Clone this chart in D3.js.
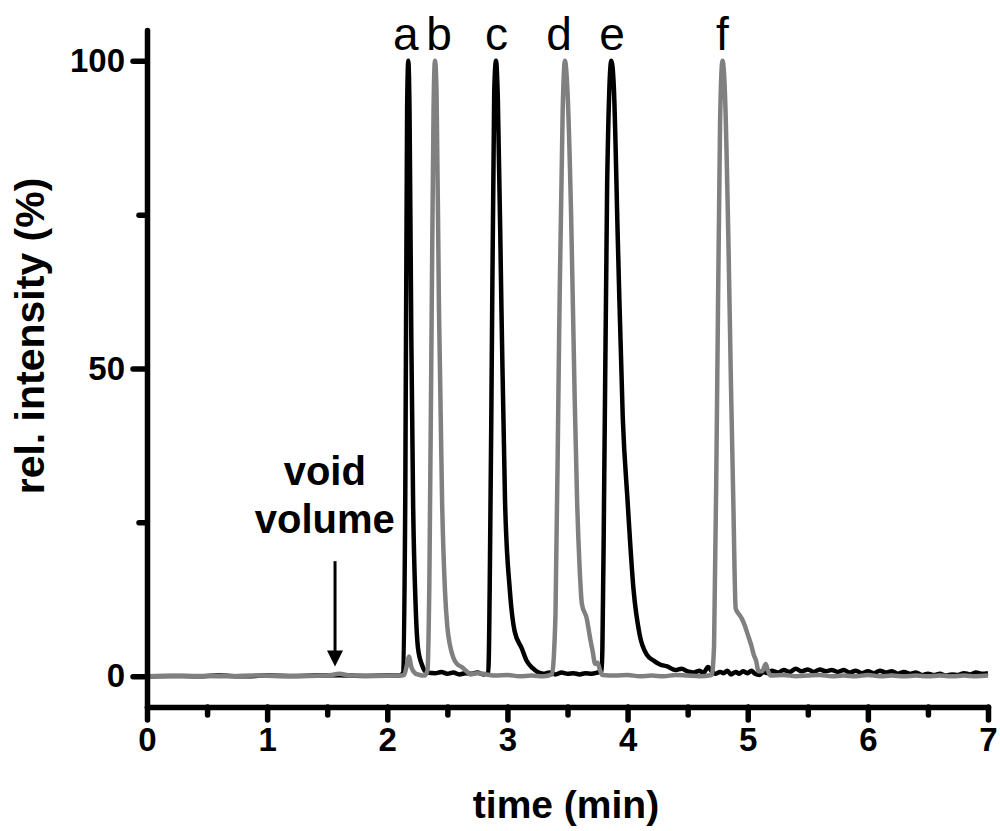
<!DOCTYPE html>
<html lang="en">
  <head>
    <meta charset="UTF-8" />
    <title>chromatogram</title>
    <style>
      body { margin: 0; background: #fff; }
      svg { display: block; font-family: 'Liberation Sans', Arial, sans-serif; }
    </style>
    <script src="https://d3js.org/d3.v7.min.js"></script>
  </head>
  <body>
    <div class="chart"></div>
    <script>
      // trace 1 (black): peaks a, c, e
      const blackTrace = [
        [0.0, 0.0], [0.2, 0.05], [0.4, 0.0], [0.6, 0.1], [0.8, 0.0], [1.0, 0.1], [1.2, 0.05],
        [1.4, 0.1], [1.6, 0.15], [1.8, 0.05], [2.0, 0.1], [2.1, 0.1], [2.13, 0.5],
        [2.15, 30], [2.165, 92], [2.175, 100], [2.185, 92], [2.2, 55], [2.215, 28],
        [2.235, 12], [2.256, 4.5], [2.29, 1.8], [2.33, 0.6], [2.4, 0.5], [2.45, 0.7],
        [2.5, 0.4], [2.55, 0.6], [2.6, 0.3], [2.65, 0.5], [2.7, 0.4], [2.75, 0.6], [2.8, 0.3],
        [2.84, 0.5], [2.865, 40], [2.89, 95], [2.905, 100], [2.92, 94], [2.95, 60],
        [2.98, 28.5], [3.02, 14], [3.06, 7.3], [3.12, 4.5], [3.16, 2.5], [3.21, 1.3],
        [3.3, 0.4], [3.35, 0.6], [3.4, 0.3], [3.45, 0.6], [3.5, 0.4], [3.55, 0.5], [3.6, 0.3],
        [3.65, 0.5], [3.7, 0.4], [3.75, 0.6], [3.785, 0.8], [3.8, 20], [3.83, 80],
        [3.865, 100], [3.885, 96], [3.92, 70], [3.96, 42], [4.0, 28.5], [4.05, 14], [4.1, 6.8],
        [4.16, 3.5], [4.22, 2.5], [4.27, 1.9], [4.33, 1.6], [4.4, 1.0], [4.45, 1.2], [4.5, 0.8],
        [4.55, 0.6], [4.6, 0.9], [4.63, 0.5], [4.67, 1.5], [4.7, 0.8], [4.73, 0.4], [4.77, 0.7],
        [4.8, 0.5], [4.83, 0.9], [4.86, 0.3], [4.9, 0.7], [4.93, 0.4], [4.96, 0.8], [5.0, 0.5],
        [5.03, 0.9], [5.06, 0.4], [5.1, 0.2], [5.13, 0.7], [5.17, 0.5], [5.2, 0.9], [5.25, 0.6],
        [5.3, 1.0], [5.35, 0.7], [5.4, 1.2], [5.45, 0.8], [5.5, 1.1], [5.55, 0.7], [5.6, 1.1],
        [5.65, 0.8], [5.7, 1.0], [5.75, 0.7], [5.8, 1.0], [5.85, 0.6], [5.9, 0.9], [5.95, 0.5],
        [6.0, 0.8], [6.05, 0.5], [6.1, 0.9], [6.15, 0.6], [6.2, 0.8], [6.25, 0.4], [6.3, 0.7],
        [6.35, 0.4], [6.4, 0.6], [6.45, 0.2], [6.5, 0.4], [6.55, 0.2], [6.6, 0.4], [6.65, 0.1],
        [6.7, 0.3], [6.75, 0.2], [6.8, 0.5], [6.85, 0.3], [6.9, 0.6], [6.95, 0.4], [7.0, 0.5]
      ]

      // trace 2 (grey): peaks b, d, f
      const grayTrace = [
        [0.0, 0.0], [0.3, 0.05], [0.6, 0.0], [0.9, 0.1], [1.2, 0.0], [1.5, 0.1], [1.6, 0.4],
        [1.7, 0.1], [1.9, 0.05], [2.1, 0.1], [2.14, 0.2], [2.165, 2], [2.18, 3.2], [2.2, 1.5],
        [2.23, 0.5], [2.27, 0.2], [2.31, 0.1], [2.335, 1], [2.35, 15], [2.37, 60],
        [2.385, 92], [2.397, 100], [2.41, 95], [2.43, 60], [2.456, 28.5], [2.48, 14], [2.5, 8],
        [2.52, 5.2], [2.55, 3], [2.58, 2], [2.62, 1.5], [2.66, 0.8], [2.69, 0.3], [2.75, 0.5],
        [2.8, 0.4], [2.85, 0.2], [2.9, 0.1], [3.0, 0.2], [3.1, 0.0], [3.2, 0.1], [3.3, 0.0],
        [3.37, 0.3], [3.4, 10], [3.43, 55], [3.46, 92], [3.478, 100], [3.5, 95], [3.53, 75],
        [3.56, 45], [3.58, 28.5], [3.6, 18], [3.62, 11.7], [3.66, 9.4], [3.69, 6], [3.71, 4],
        [3.73, 2], [3.75, 2.2], [3.77, 1], [3.79, 0.2], [3.9, 0.1], [4.0, 0.2], [4.1, 0.0],
        [4.2, 0.1], [4.3, 0.0], [4.4, 0.2], [4.5, 0.1], [4.6, 0.0], [4.7, 0.2], [4.72, 5],
        [4.745, 45], [4.77, 90], [4.79, 100], [4.81, 95], [4.84, 70], [4.86, 48], [4.88, 28.5],
        [4.9, 11], [4.93, 10], [4.95, 9.4], [4.98, 8], [5.0, 6.8], [5.03, 5], [5.05, 3.5],
        [5.07, 2.5], [5.09, 0.8], [5.12, 0.8], [5.15, 2], [5.17, 0.8], [5.19, 0.1], [5.3, 0.2],
        [5.4, 0.0], [5.5, 0.1], [5.6, 0.2], [5.7, 0.0], [5.8, 0.1], [5.9, 0.0], [6.0, 0.2],
        [6.1, 0.0], [6.2, 0.1], [6.3, 0.0], [6.4, 0.1], [6.5, 0.0], [6.6, 0.1], [6.7, 0.0],
        [6.8, 0.1], [6.9, 0.0], [7.0, 0.1]
      ]

      const peakLabels = ['a', 'b', 'c', 'd', 'e', 'f']
      const labelTimes = [2.155, 2.43, 2.91, 3.43, 3.87, 4.79]

      const xMajorTicks = [0, 1, 2, 3, 4, 5, 6, 7]
      const xMinorTicks = [0.5, 1.5, 2.5, 3.5, 4.5, 5.5, 6.5]
      const yMajorTicks = [0, 50, 100]
      const yMinorTicks = [25, 75]

      const voidTime = 1.565

      const width = 1000
      const height = 831

      const svg = d3.select('.chart').append('svg').attr('width', width).attr('height', height)

      const x = d3.scaleLinear().domain([0, 7]).range([147, 988])
      const y = d3.scaleLinear().domain([-5, 105]).range([707, 30])

      // traces
      const line = d3
        .line()
        .x((d) => x(d[0]))
        .y((d) => y(d[1]))
        .curve(d3.curveMonotoneX)

      svg
        .append('path')
        .datum(blackTrace)
        .attr('d', line)
        .attr('fill', 'none')
        .attr('stroke', '#000')
        .attr('stroke-width', 4.5)
        .attr('stroke-linejoin', 'round')

      svg
        .append('path')
        .datum(grayTrace)
        .attr('d', line)
        .attr('fill', 'none')
        .attr('stroke', '#808080')
        .attr('stroke-width', 4.5)
        .attr('stroke-linejoin', 'round')

      // axes
      function styleAxis(g) {
        g.selectAll('path, line')
          .attr('stroke', '#000')
          .attr('stroke-width', 5.5)
          .attr('stroke-linecap', 'round')
        g.selectAll('text')
          .attr('fill', '#000')
          .style('font-family', "'Liberation Sans', Arial, sans-serif")
          .style('font-weight', 'bold')
          .style('font-size', '33px')
      }

      const xAxis = svg
        .append('g')
        .attr('transform', `translate(0, ${y(-5)})`)
        .call(
          d3.axisBottom(x).tickValues(xMajorTicks).tickFormat(d3.format('d'))
            .tickSize(13).tickSizeOuter(0).tickPadding(8)
        )
      svg
        .append('g')
        .attr('transform', `translate(0, ${y(-5)})`)
        .call(d3.axisBottom(x).tickValues(xMinorTicks).tickSize(8).tickFormat(''))
        .call((g) => g.select('.domain').remove())
        .call(styleAxis)
      xAxis.call(styleAxis)

      const yAxis = svg
        .append('g')
        .attr('transform', `translate(${x(0)}, 0)`)
        .call(
          d3.axisLeft(y).tickValues(yMajorTicks).tickFormat(d3.format('d'))
            .tickSize(14).tickSizeOuter(0).tickPadding(8)
        )
      svg
        .append('g')
        .attr('transform', `translate(${x(0)}, 0)`)
        .call(d3.axisLeft(y).tickValues(yMinorTicks).tickSize(8).tickFormat(''))
        .call((g) => g.select('.domain').remove())
        .call(styleAxis)
      yAxis.call(styleAxis)

      // axis titles
      svg
        .append('text')
        .attr('x', 566)
        .attr('y', 818)
        .attr('text-anchor', 'middle')
        .style('font-weight', 'bold')
        .style('font-size', '39px')
        .text('time (min)')

      svg
        .append('text')
        .attr('transform', `translate(44, 336) rotate(-90)`)
        .attr('text-anchor', 'middle')
        .style('font-weight', 'bold')
        .style('font-size', '41px')
        .text('rel. intensity (%)')

      // peak labels
      svg
        .append('g')
        .selectAll('text')
        .data(peakLabels)
        .join('text')
        .attr('x', (d, i) => x(labelTimes[i]))
        .attr('y', y(100) - 11)
        .attr('text-anchor', 'middle')
        .style('font-size', '46px')
        .text((d) => d)

      // void volume note
      const note = svg
        .append('text')
        .attr('text-anchor', 'middle')
        .style('font-weight', 'bold')
        .style('font-size', '40px')
      note.append('tspan').attr('x', x(1.48)).attr('y', y(31)).text('void')
      note.append('tspan').attr('x', x(1.48)).attr('y', y(23.3)).text('volume')

      svg
        .append('line')
        .attr('x1', x(voidTime))
        .attr('x2', x(voidTime))
        .attr('y1', y(18.7))
        .attr('y2', y(4))
        .attr('stroke', '#000')
        .attr('stroke-width', 3)
      svg
        .append('path')
        .attr(
          'd',
          `M${x(voidTime) - 8},${y(4.2)} L${x(voidTime) + 8},${y(4.2)} L${x(voidTime)},${y(1.6)} Z`
        )
        .attr('fill', '#000')
    </script>
  </body>
</html>
